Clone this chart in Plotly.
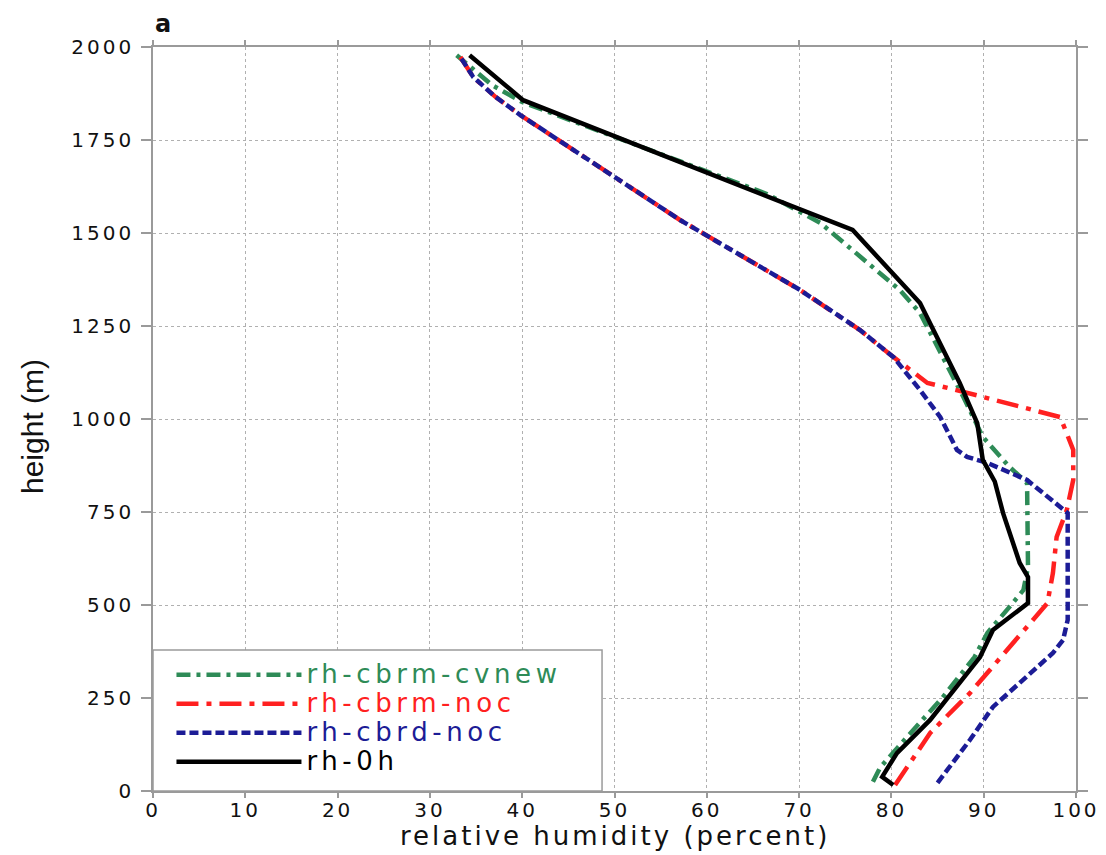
import plotly.graph_objects as go

# ---- data (relative humidity %, height m) ----
cvnew_rh = [78.0, 78.8, 81.5, 85.5, 89.0, 90.4, 92.8, 94.3, 94.8, 94.8, 94.7, 92.8, 89.9, 87.8, 83.1, 80.9, 74.4, 72.3, 66.5, 40.0, 36.7, 32.9]
cvnew_h  = [25,   64,   140,  250,  360,  425,  495,  540,  602,  809,  828,  871,  952,  1059, 1285, 1347, 1481, 1527, 1605, 1852, 1898, 1978]

cbrm_rh = [80.4, 84.2, 88.5, 95.3, 96.9, 97.5, 97.9, 99.0, 99.7, 99.7, 98.3, 87.8, 83.9, 80.2, 76.6, 70.1, 57.1, 39.8, 37.1, 34.7, 33.3]
cbrm_h  = [16,   156,  263,  460,  505,  586,  683,  755,  836,  917,  1005, 1073, 1097, 1167, 1239, 1347, 1535, 1817, 1866, 1919, 1973]

cbrd_rh = [85.0, 88.5, 91.0, 97.5, 98.6, 99.1, 99.1, 94.7, 90.4, 88.2, 87.1, 85.3, 83.1, 80.2, 76.6, 70.1, 57.1, 39.8, 37.1, 34.7, 33.3]
cbrd_h  = [22,   137,  226,  371,  406,  460,  747,  836,  882,  898,  917,  1005, 1078, 1167, 1239, 1347, 1535, 1817, 1866, 1919, 1973]

obs_rh = [80.2, 79.0, 80.6, 84.2, 89.6, 91.0, 94.8, 94.8, 93.9, 92.1, 91.2, 89.9, 89.3, 87.4, 83.1, 75.8, 40.1, 34.3]
obs_h  = [16,   38,   102,  191,  360,  433,  505,  575,  613,  747,  832,  890,  989,  1097, 1312, 1508, 1857, 1978]

x_ticks = list(range(0, 101, 10))
y_ticks = list(range(0, 2001, 250))

GREEN = "#2e8b57"
RED = "#ff2020"
BLUE = "#1c1c96"
BLACK = "#000000"
FONT = "DejaVu Sans"
AXIS_GREY = "#9a9a9a"


def spaced(s, px):
    return f'<span style="letter-spacing:{px}px">{s}</span>'


def legname(s, color):
    return f'<span style="color:{color};font-size:26px;letter-spacing:4.6px">{s}</span>'


fig = go.Figure()
series = [
    (cvnew_rh, cvnew_h, "rh-cbrm-cvnew", GREEN, "14px,6px,4px,6px"),
    (cbrm_rh, cbrm_h, "rh-cbrm-noc", RED, "22px,8px,5px,8px"),
    (cbrd_rh, cbrd_h, "rh-cbrd-noc", BLUE, "9px,4px"),
    (obs_rh, obs_h, "rh-0h", BLACK, "solid"),
]
for xs, ys, name, color, dash in series:
    fig.add_trace(go.Scatter(x=xs, y=ys, mode="lines", name=legname(name, color),
                             line=dict(color=color, width=4.5, dash=dash)))

axis_common = dict(
    showline=True, linecolor=AXIS_GREY, linewidth=1.5, mirror="ticks",
    ticks="outside", tickcolor=AXIS_GREY, tickwidth=1.5,
    showgrid=True, gridcolor="#b0b0b0", griddash="dot", gridwidth=1,
    zeroline=False, automargin=False,
    tickfont=dict(family=FONT, size=20, color="#111"),
)

fig.update_xaxes(range=[0, 100], tickmode="array", tickvals=x_ticks,
                 ticktext=[spaced(str(v), 3) for v in x_ticks],
                 ticklen=5, ticklabelstandoff=-5, **axis_common)
fig.update_yaxes(range=[0, 2000], tickmode="array", tickvals=y_ticks,
                 ticktext=[spaced(str(v), 3) for v in y_ticks],
                 ticklen=10, ticklabelstandoff=3, **axis_common)

# axis titles
fig.add_annotation(text=spaced("relative humidity (percent)", 3), xref="paper", yref="paper",
                   x=0.5, y=0, xanchor="center", yanchor="top", yshift=-28, showarrow=False,
                   font=dict(family=FONT, size=26, color="#111"))
fig.add_annotation(text="height (m)", xref="paper", yref="paper", textangle=-90,
                   x=0, y=0.5, xanchor="center", yanchor="middle", xshift=-121, yshift=-8,
                   showarrow=False, font=dict(family="Liberation Sans", size=30, color="#111"))

# legend frame
fig.add_shape(type="rect", xref="paper", yref="paper", x0=0, x1=0.4865, y0=0, y1=0.1895,
              line=dict(color=AXIS_GREY, width=1.5), fillcolor="white", layer="above")

# panel label
fig.add_annotation(text="<b>a</b>", xref="paper", yref="paper", x=0, y=1,
                   xanchor="left", yanchor="bottom", yshift=7, showarrow=False,
                   font=dict(family="DejaVu Sans", size=24, color="#111"))

# page body has an 8px margin, so the figure is sized to fit the 1106x855 window
fig.update_layout(
    width=1098, height=847,
    margin=dict(l=145, r=30, t=39, b=64),
    paper_bgcolor="white", plot_bgcolor="white",
    showlegend=True,
    legend=dict(x=0.02, y=0.013, xanchor="left", yanchor="bottom",
                bgcolor="rgba(0,0,0,0)", borderwidth=0, itemwidth=125,
                font=dict(family=FONT, size=20), tracegroupgap=0),
)

fig.write_html("out.html")
